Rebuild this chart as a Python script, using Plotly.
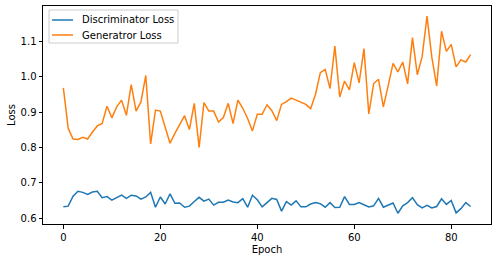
import plotly.graph_objects as go

epochs = list(range(85))
disc_loss = [0.632, 0.634, 0.662, 0.676, 0.673, 0.667, 0.674, 0.676, 0.658, 0.661,
             0.651, 0.658, 0.665, 0.656, 0.665, 0.663, 0.654, 0.660, 0.673, 0.631,
             0.660, 0.640, 0.669, 0.642, 0.643, 0.631, 0.634, 0.647, 0.659, 0.648,
             0.654, 0.637, 0.645, 0.645, 0.651, 0.646, 0.644, 0.655, 0.631, 0.665,
             0.652, 0.632, 0.645, 0.656, 0.653, 0.620, 0.647, 0.637, 0.649, 0.632,
             0.632, 0.640, 0.644, 0.641, 0.631, 0.644, 0.630, 0.631, 0.661, 0.639,
             0.639, 0.644, 0.638, 0.632, 0.635, 0.656, 0.631, 0.637, 0.643, 0.614,
             0.635, 0.644, 0.658, 0.638, 0.629, 0.636, 0.629, 0.633, 0.655, 0.639,
             0.650, 0.615, 0.627, 0.644, 0.633]
gen_loss = [0.969, 0.854, 0.824, 0.823, 0.829, 0.824, 0.844, 0.861, 0.868, 0.917,
            0.884, 0.915, 0.934, 0.891, 0.978, 0.903, 0.929, 1.004, 0.810, 0.906,
            0.903, 0.859, 0.812, 0.840, 0.863, 0.890, 0.851, 0.925, 0.800, 0.927,
            0.903, 0.903, 0.872, 0.885, 0.925, 0.868, 0.934, 0.911, 0.882, 0.847,
            0.894, 0.894, 0.921, 0.904, 0.876, 0.922, 0.930, 0.940, 0.934, 0.928,
            0.922, 0.910, 0.950, 1.012, 1.021, 0.967, 1.087, 0.943, 0.988, 0.963,
            1.040, 0.983, 1.080, 0.895, 0.981, 0.993, 0.915, 0.975, 1.038, 1.014,
            1.042, 0.980, 1.111, 1.006, 1.057, 1.172, 1.055, 0.974, 1.129, 1.072,
            1.092, 1.028, 1.048, 1.042, 1.063]
series_names = ["Discriminator Loss", "Generatror Loss"]
series_colors = ["#1f77b4", "#ff7f0e"]

fig = go.Figure()
for name, vals, col in zip(series_names, [disc_loss, gen_loss], series_colors):
    fig.add_trace(go.Scatter(x=epochs, y=vals, mode="lines", name=name,
                             line=dict(color=col, width=1.5), showlegend=False))

axis_common = dict(showline=True, linecolor="black", linewidth=1, mirror=True,
                   ticks="outside", ticklen=3.5, tickcolor="black", showgrid=False,
                   zeroline=False, tickfont=dict(size=10, color="black"))
fig.update_xaxes(range=[-4.2, 88.2], tickvals=[0, 20, 40, 60, 80],
                 title=dict(text="Epoch", font=dict(size=10, color="black"), standoff=4),
                 **axis_common)
fig.update_yaxes(range=[0.5835, 1.2005], tickvals=[0.6, 0.7, 0.8, 0.9, 1.0, 1.1],
                 ticktext=["0.6", "0.7", "0.8", "0.9", "1.0", "1.1"],
                 title=dict(text="Loss", font=dict(size=10, color="black"), standoff=3),
                 **axis_common)

# matplotlib-style legend (compact), built in paper coordinates
L, R, T, B = 43, 491, 6, 224
def px(x):
    return (x - L) / (R - L)
def py(y):
    return (B - y) / (B - T)

shapes = [dict(type="rect", xref="paper", yref="paper",
               x0=px(49), x1=px(178), y0=py(43), y1=py(10),
               line=dict(color="#cccccc", width=1), fillcolor="rgba(255,255,255,0.8)",
               layer="above")]
annotations = []
for i, (name, col) in enumerate(zip(series_names, series_colors)):
    yy = 20 + 15 * i
    shapes.append(dict(type="line", xref="paper", yref="paper",
                       x0=px(52), x1=px(73), y0=py(yy), y1=py(yy),
                       line=dict(color=col, width=1.5), layer="above"))
    annotations.append(dict(xref="paper", yref="paper", x=px(80), y=py(yy),
                            text=name, showarrow=False, xanchor="left", yanchor="middle",
                            font=dict(size=10, color="black")))

fig.update_layout(
    width=497, height=262,
    margin=dict(l=L, r=497 - R, t=T, b=262 - B),
    plot_bgcolor="white", paper_bgcolor="white",
    font=dict(family="DejaVu Sans", size=10, color="black"),
    showlegend=False,
    shapes=shapes,
    annotations=annotations,
)
fig.write_html("out.html")
